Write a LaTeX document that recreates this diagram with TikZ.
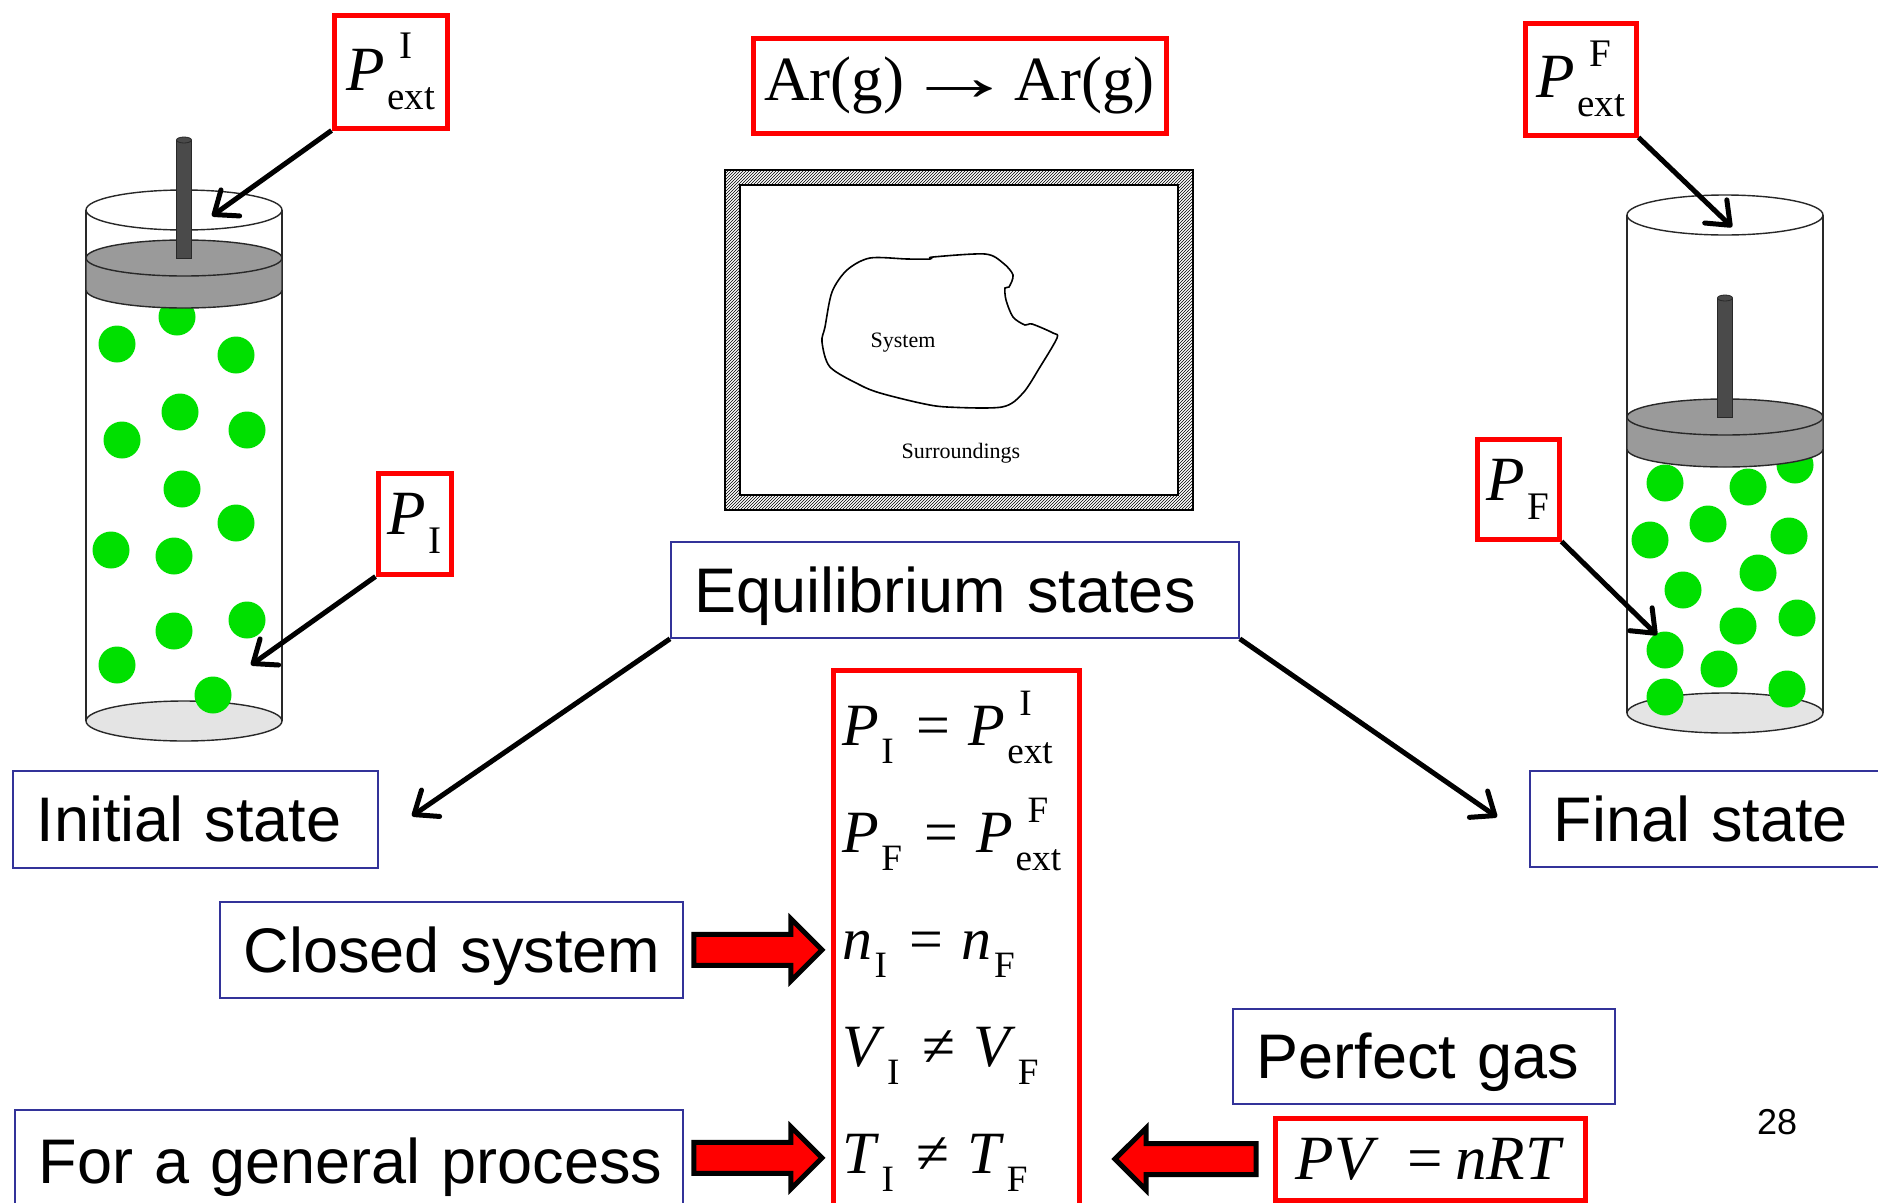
\documentclass[tikz,border=0pt]{standalone}
\usepackage{fontspec}
\setmainfont{Liberation Serif}
\setsansfont{Liberation Sans}
\usepackage{graphicx}
\usepackage{tikz}
\usetikzlibrary{arrows.meta,shapes.arrows,patterns,calc}

\definecolor{boxblue}{RGB}{51,51,153}
\definecolor{ballgreen}{RGB}{0,224,0}
\definecolor{pistongray}{RGB}{154,154,154}
\definecolor{rodgray}{RGB}{74,74,74}
\definecolor{floorgray}{RGB}{228,228,228}
\definecolor{wallgray}{RGB}{40,40,40}

% quantities with lowered index (and raised label)
\newcommand{\lowsub}[1]{\raisebox{-.3em}{\scalebox{.62}{#1}}}
\newcommand{\qsub}[2]{\textit{#1}\kern.04em\lowsub{#2}}
\newcommand{\qsubsup}[3]{\textit{#1}\kern.04em%
  \rlap{\kern.2em\raisebox{.5em}{\scalebox{.62}{#3}}}\lowsub{#2}}
\newcommand{\gives}{\scalebox{1.75}[1.1]{→}}

% gas cylinder: #1 centre x, #2 rim y, #3 piston y, #4 base y,
% #5 rod top y, #6 molecules
\newcommand{\gascylinder}[6]{%
  \filldraw[wall,fill=floorgray] (#1,#4) ellipse [x radius=98pt,y radius=20pt];
  \draw[wall] (#1-98,#2) -- (#1-98,#4) (#1+98,#2) -- (#1+98,#4);
  \foreach \mx/\my in {#6}
    \fill[ballgreen] (\mx,\my) circle [radius=18.5pt];
  \draw[wall] (#1,#2) ellipse [x radius=98pt,y radius=20pt];
  \filldraw[wall,fill=pistongray] (#1-98,#3) -- (#1-98,#3+32)
    arc [start angle=180,end angle=360,x radius=98pt,y radius=18pt]
    -- (#1+98,#3) -- cycle;
  \filldraw[wall,fill=pistongray] (#1,#3) ellipse [x radius=98pt,y radius=18pt];
  \filldraw[wall,fill=rodgray,line width=.8pt] (#1-7.5,#5) rectangle (#1+7.5,#3);
  \filldraw[wall,fill=rodgray,line width=.8pt] (#1,#5) ellipse [x radius=7.5pt,y radius=3pt];
}

\begin{document}
\begin{tikzpicture}[x=1pt,y=-1pt
  ,callout/.style={-{Straight Barb[length=20pt,width=32pt,round]}
    ,line width=5pt}
  ,wall/.style={draw=wallgray,line width=1.4pt}]
  \tikzstyle{redbox}=[draw=red,line width=5pt,inner sep=0pt
  ,anchor=north west,font=\fontsize{63}{70}\selectfont]
  \tikzstyle{bluebox}=[draw=boxblue,line width=1.8pt,anchor=north west
  ,align=left,inner xsep=24pt,text height=45pt,text depth=0pt
  ,font=\sffamily\fontsize{63}{70}\selectfont]
  \tikzstyle{fatarrow}=[single arrow,draw=black,fill=red,line width=5pt
  ,line join=miter,inner xsep=0pt,inner ysep=13pt
  ,single arrow head extend=15.5pt]

  \useasboundingbox (0,0) rectangle (1878,1202);
  \clip (0,0) rectangle (1878,1202);
  \fill[white] (0,0) rectangle (1878,1202);

  % initial and final cylinders
  \gascylinder{184}{210}{258}{721}{140}{117/344,177/317,236/355,122/440,
    180/412,247/430,182/489,236/523,111/550,174/556,174/631,247/620,
    117/665,213/695}
  \gascylinder{1725}{215}{417}{713}{298}{1665/483,1748/487,1795/465,
    1708/524,1650/540,1789/536,1758/573,1683/590,1738/626,1797/618,
    1665/650,1719/669,1665/697,1787/689}

  % system in its surroundings
  \fill[pattern=north east lines,even odd rule]
    (725,170) rectangle (1193,510) (740,185) rectangle (1178,495);
  \draw[line width=1.2pt] (725,170) rectangle (1193,510);
  \draw[line width=2pt] (740,185) rectangle (1178,495);
  \draw[line width=1.6pt] plot[smooth cycle,tension=.5] coordinates {
    (832,292) (847,270) (870,258) (907,259) (930,259) (933,257) (985,254)
    (1003,263) (1013,275) (1009,287) (1005,288) (1006,300) (1013,317)
    (1025,325) (1032,324) (1053,333) (1057,338) (1040,367) (1023,393)
    (1002,407) (947,407) (920,403) (880,393) (860,385) (830,367)
    (822,342) (825,327)};
  \node[font=\fontsize{22}{24}\selectfont] (sys) at (903,343) {System};
  \node[font=\fontsize{22}{24}\selectfont] (surr) at (961,453) {Surroundings};

  % red boxes
  \node[redbox,minimum width=413pt,minimum height=95pt] (rxn) at (750.5,35.5)
    {Ar(g)\gives{}Ar(g)};
  \node[redbox,minimum width=113pt,minimum height=113pt] (pexti) at (331.5,12.5)
    {\qsubsup{P}{ext}{I}};
  \node[redbox,minimum width=73pt,minimum height=101pt] (pi) at (375.5,470.5)
    {\qsub{P}{I}};
  \node[redbox,minimum width=111pt,minimum height=112pt] (pextf) at (1522.5,20.5)
    {\qsubsup{P}{ext}{F}};
  \node[redbox,minimum width=82pt,minimum height=100pt] (pf) at (1474.5,436.5)
    {\qsub{P}{F}};
  \node[redbox,minimum width=246pt,minimum height=560pt] (eqs) at (830.5,667.5) {};
  \node[redbox,minimum width=310pt,minimum height=82pt] (gasl) at (1272.5,1115.5)
    {\textit{PV}\hspace{.45em}=\hspace{.2em}\textit{nRT}};

  % conditions, one per line
  \foreach \eqn [count=\k] in {
    {\qsub{P}{I}\hspace{.38em}=\hspace{.3em}\qsubsup{P}{ext}{I}},
    {\qsub{P}{F}\hspace{.38em}=\hspace{.3em}\qsubsup{P}{ext}{F}},
    {\qsub{n}{I}\hspace{.38em}=\hspace{.3em}\qsub{n}{F}},
    {\qsub{V}{I}\hspace{.38em}≠\hspace{.3em}\qsub{V}{F}},
    {\qsub{T}{I}\hspace{.38em}≠\hspace{.3em}\qsub{T}{F}}}
    \node[anchor=base west,inner sep=0pt,font=\fontsize{60}{66}\selectfont]
      (eq\k) at (842,{745+107*(\k-1)}) {\eqn};

  % blue boxes
  \node[bluebox,text width=520pt,minimum height=96pt] (eqst) at (670,541)
    {\mbox{Equilibrium states}};
  \node[bluebox,text width=317pt,minimum height=97pt] (init) at (12,770)
    {\mbox{Initial state}};
  \node[bluebox,text width=306pt,minimum height=96pt] (fin) at (1529,770)
    {\mbox{Final state}};
  \node[bluebox,text width=415pt,minimum height=96pt] (clsd) at (219,901)
    {\mbox{Closed system}};
  \node[bluebox,text width=620pt,minimum height=102pt] (gen) at (14,1109)
    {\mbox{For a general process}};
  \node[bluebox,text width=334pt,minimum height=95pt] (pgas) at (1232,1008)
    {\mbox{Perfect gas}};

  \node[font=\sffamily\fontsize{36}{40}\selectfont] (page) at (1777,1122) {28};

  % block arrows
  \node[fatarrow,minimum height=128pt,anchor=tip] (clsdarr)
    at ($(eqs.west |- clsd.east)+(-5,0)$) {};
  \node[fatarrow,minimum height=128pt,anchor=tip] (genarr)
    at ($(eqs.west |- gen.east)+(-5,-3)$) {};
  \node[fatarrow,minimum height=141pt,shape border rotate=180,anchor=tail]
    (gasarr) at ($(gasl.west)+(-14,0)$) {};

  % callout arrows
  \coordinate (toppl) at (212,216);
  \coordinate (gasil) at (251,665);
  \coordinate (toppr) at (1732,227);
  \coordinate (gasfr) at (1657,635);
  \coordinate (inittip) at (412,816);
  \coordinate (fintip) at (1497,817);
  \draw[callout] (pexti.south west) -- (toppl);
  \draw[callout] (pi.south west) -- (gasil);
  \draw[callout] (pextf.south east) -- (toppr);
  \draw[callout] (pf.south east) -- (gasfr);
  \draw[callout] (eqst.south west) -- (inittip);
  \draw[callout] (eqst.south east) -- (fintip);
\end{tikzpicture}
\end{document}
